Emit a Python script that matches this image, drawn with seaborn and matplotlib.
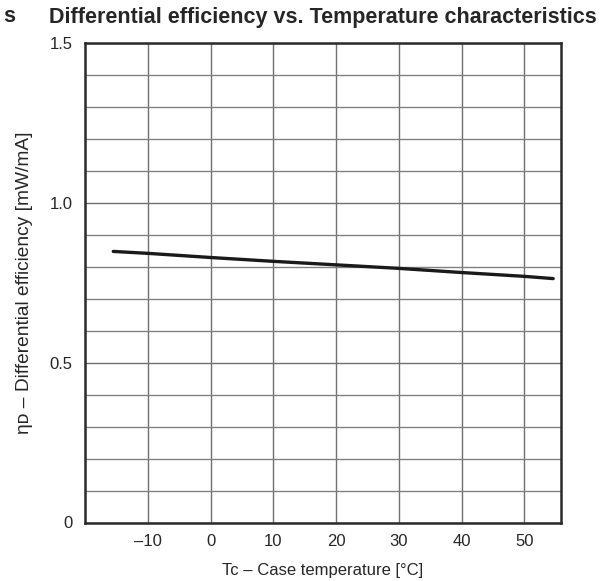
import matplotlib
matplotlib.use("Agg")
import matplotlib.pyplot as plt
import seaborn as sns
import numpy as np
import pandas as pd

# Data
temperature = [-15.5, -10, 0, 10, 20, 30, 40, 50, 54.6]
efficiency = [0.848, 0.842, 0.829, 0.817, 0.806, 0.795, 0.782, 0.770, 0.763]
x_ticks = [-10, 0, 10, 20, 30, 40, 50]
x_tick_labels = ["\u201310", "0", "10", "20", "30", "40", "50"]
y_ticks = [0, 0.5, 1.0, 1.5]
y_tick_labels = ["0", "0.5", "1.0", "1.5"]

sns.set_theme(style="white")
plt.rcParams['font.family'] = ['Liberation Sans', 'DejaVu Sans']

fig = plt.figure(figsize=(6.04, 5.81), dpi=100)
ax = fig.add_axes([85/604, 1 - 522.5/581, (560.7 - 85)/604, (522.5 - 43)/581])

df = pd.DataFrame({"T": temperature, "eff": efficiency})
sns.lineplot(data=df, x="T", y="eff", ax=ax, color="#1a1a1a", linewidth=2.4, zorder=5)

ax.set_xlim(-20, 55.8)
ax.set_ylim(0, 1.5)
ax.set_xticks(x_ticks)
ax.set_xticklabels(x_tick_labels)
ax.set_yticks(y_ticks)
ax.set_yticklabels(y_tick_labels)
ax.set_yticks(np.arange(0, 1.51, 0.1), minor=True)
ax.set_axisbelow(True)
ax.grid(which="major", axis="both", visible=True, color="#707070", linewidth=1.0)
ax.grid(which="minor", axis="y", visible=True, color="#808080", linewidth=1.0)
ax.tick_params(which="both", length=0, labelsize=12, colors="#262626")
ax.tick_params(axis="y", pad=9)
ax.tick_params(axis="x", pad=8)
for s in ax.spines.values():
    s.set_visible(True)
    s.set_color("#2a2a2a")
    s.set_linewidth(1.8)

ax.set_xlabel("Tc \u2013 Case temperature [\u00b0C]", fontsize=12, color="#262626", labelpad=10)
ax.set_ylabel("\u03b7\u1d05 \u2013 Differential efficiency [mW/mA]", fontsize=13.8, color="#262626", labelpad=12)

fig.text(3/604, 1 - 17/581, "s", fontsize=15.5, fontweight="bold", color="#262626", va="center", ha="left")
fig.text(597/604, 1 - 17/581, "Differential efficiency vs. Temperature characteristics",
         fontsize=15.5, fontweight="bold", color="#262626", va="center", ha="right")

fig.savefig("out.png", dpi=100)
